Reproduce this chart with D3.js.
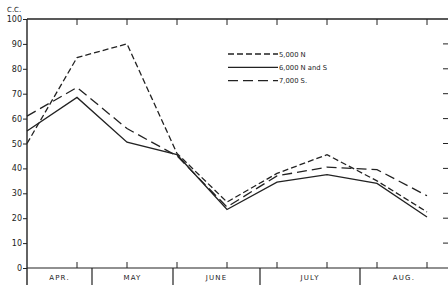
<!DOCTYPE html>
<head>
<style>
  body { margin: 0; background: #fff; }
  text { font-family: "DejaVu Sans", sans-serif; fill: #222; }
</style>
</head>

<body>
<svg id="container" width="448" height="285"></svg>
</body>

<script src="https://d3js.org/d3.v7.min.js"></script>
<script>

    // readings along the season, 9 points
    let points = [0, 1, 2, 3, 4, 5, 6, 7, 8]
    let n5000 = [50, 84.5, 90, 46, 26.5, 38, 45.5, 35, 22.5]
    let n6000 = [55, 68.5, 50.5, 45.5, 23.5, 34.5, 37.5, 34, 20.5]
    let s7000 = [61, 72.5, 56, 45, 24.5, 37, 40.5, 39.5, 29]

    let months = ["APR.", "MAY", "JUNE", "JULY", "AUG."]
    let monthEdges = [0, 1.3, 2.92, 4.66, 6.66, 8.42]   // in point units
    let yTicks = [0, 10, 20, 30, 40, 50, 60, 70, 80, 90, 100]
    let legendNames = ["5,000 N", "6,000 N and S", "7,000 S."]

    let svg = d3.select("#container")
    let x = d3.scaleLinear().domain([0, 8]).range([27, 427])
    let y = d3.scaleLinear().domain([0, 100]).range([268, 19])

    let ink = "#222"

    // frame lines
    svg.append("line").attr("x1", x(0)).attr("x2", 448).attr("y1", y(100)).attr("y2", y(100))
        .attr("stroke", ink).attr("stroke-width", 1.4)
    svg.append("line").attr("x1", x(0)).attr("x2", 448).attr("y1", y(0)).attr("y2", y(0))
        .attr("stroke", ink).attr("stroke-width", 1.2)
    svg.append("line").attr("x1", x(0)).attr("x2", x(0)).attr("y1", y(100)).attr("y2", 285)
        .attr("stroke", ink).attr("stroke-width", 1.4)

    // left axis
    let left = svg.append("g").attr("transform", "translate(" + x(0) + ",0)")
        .call(d3.axisLeft(y).tickValues(yTicks).tickSize(4).tickPadding(1))
    left.select(".domain").remove()
    left.selectAll("line").attr("stroke", ink)
    left.selectAll("text").style("font-size", "8px").style("font-family", "DejaVu Sans")
        .attr("fill", "#333")

    svg.append("text").attr("x", 7).attr("y", 12).text("C.C.")
        .style("font-size", "7px")

    // right ticks
    svg.selectAll(".rtick").data(yTicks.slice(1, 10)).enter().append("line")
        .attr("x1", 443).attr("x2", 448)
        .attr("y1", d => y(d)).attr("y2", d => y(d))
        .attr("stroke", ink)

    // top and bottom ticks
    svg.selectAll(".ttick").data(points.slice(1)).enter().append("line")
        .attr("x1", d => x(d)).attr("x2", d => x(d))
        .attr("y1", y(100)).attr("y2", y(100) + 6)
        .attr("stroke", ink)
    svg.selectAll(".btick").data(points.slice(1)).enter().append("line")
        .attr("x1", d => x(d)).attr("x2", d => x(d))
        .attr("y1", y(0)).attr("y2", y(0) - 6)
        .attr("stroke", ink)

    // month row
    svg.selectAll(".msep").data(monthEdges.slice(1, 5)).enter().append("line")
        .attr("x1", d => x(d)).attr("x2", d => x(d))
        .attr("y1", y(0)).attr("y2", 285)
        .attr("stroke", ink).attr("stroke-width", 1.2)
    svg.selectAll(".mlab").data(months).enter().append("text")
        .attr("x", (d, i) => (x(monthEdges[i]) + x(monthEdges[i + 1])) / 2)
        .attr("y", 280)
        .attr("text-anchor", "middle")
        .style("font-size", "7px")
        .style("letter-spacing", "1.2px")
        .attr("fill", "#444")
        .text(d => d)

    // series
    let series = [
        { vals: n5000, dash: "6,3" },
        { vals: n6000, dash: null },
        { vals: s7000, dash: "10,5" }
    ]
    let line = d3.line().x((d, i) => x(points[i])).y(d => y(d))

    svg.selectAll(".series").data(series).enter().append("path")
        .attr("d", d => line(d.vals))
        .attr("fill", "none")
        .attr("stroke", ink)
        .attr("stroke-width", 1.3)
        .attr("stroke-dasharray", d => d.dash)

    // legend
    let legend = svg.selectAll(".leg").data(series).enter().append("g")
        .attr("transform", (d, i) => "translate(228," + (54 + i * 13.3) + ")")
    legend.append("line").attr("x1", 0).attr("x2", 50)
        .attr("stroke", ink).attr("stroke-width", 1.3)
        .attr("stroke-dasharray", d => d.dash)
    legend.append("text").attr("x", 51).attr("y", 2.5)
        .style("font-size", "6.8px")
        .text((d, i) => legendNames[i])

</script>
